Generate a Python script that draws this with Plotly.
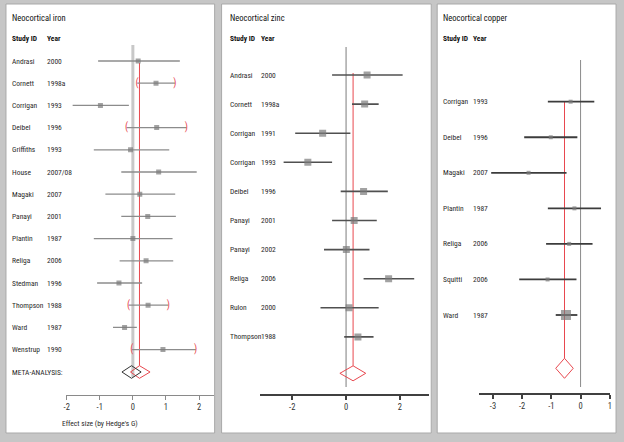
import plotly.graph_objects as go

# ---------------- data ----------------
iron_study = ["Andrasi", "Cornett", "Corrigan", "Deibel", "Griffiths", "House", "Magaki",
              "Panayi", "Plantin", "Religa", "Stedman", "Thompson", "Ward", "Wenstrup"]
iron_year = ["2000", "1998a", "1993", "1996", "1993", "2007/08", "2007",
             "2001", "1987", "2006", "1996", "1988", "1987", "1990"]
iron_es = [0.16, 0.70, -0.98, 0.72, -0.07, 0.78, 0.21, 0.45, 0.00, 0.40, -0.42, 0.46, -0.25, 0.91]
iron_lo = [-1.05, 0.13, -1.82, -0.19, -1.18, -0.35, -0.83, -0.35, -1.18, -0.40, -1.08, -0.13, -0.60, -0.03]
iron_hi = [1.42, 1.27, -0.12, 1.62, 1.10, 1.93, 1.28, 1.30, 1.20, 1.22, 0.28, 1.07, 0.12, 1.90]
iron_bracket = [False, True, False, True, False, False, False, False, False, False, False, True, False, True]
iron_meta_random = [0.20, -0.07, 0.52]   # estimate, low, high
iron_meta_fixed = [-0.04, -0.33, 0.25]

zinc_study = ["Andrasi", "Cornett", "Corrigan", "Corrigan", "Deibel", "Panayi", "Panayi",
              "Religa", "Rulon", "Thompson"]
zinc_year = ["2000", "1998a", "1991", "1993", "1996", "2001", "2002", "2006", "2000", "1988"]
zinc_es = [0.78, 0.69, -0.87, -1.42, 0.65, 0.30, 0.01, 1.58, 0.11, 0.44]
zinc_lo = [-0.52, 0.22, -1.89, -2.32, -0.20, -0.52, -0.82, 0.65, -0.95, -0.07]
zinc_hi = [2.10, 1.21, 0.16, -0.52, 1.55, 1.14, 0.87, 2.53, 1.21, 1.02]
zinc_meta = [0.26, -0.23, 0.73]

copper_study = ["Corrigan", "Deibel", "Magaki", "Plantin", "Religa", "Squitti", "Ward"]
copper_year = ["1993", "1996", "2007", "1987", "2006", "2006", "1987"]
copper_es = [-0.34, -1.02, -1.78, -0.21, -0.39, -1.13, -0.50]
copper_lo = [-1.12, -1.93, -3.06, -1.12, -1.18, -2.10, -0.85]
copper_hi = [0.47, -0.11, -0.48, 0.70, 0.41, -0.14, -0.11]
copper_meta = [-0.55, -0.85, -0.25]

iron_ticks = [-2, -1, 0, 1, 2]
zinc_ticks = [-2, 0, 2]
copper_ticks = [-3, -2, -1, 0, 1]

titles = ["Neocortical iron", "Neocortical zinc", "Neocortical copper"]

# ---------------- layout constants (pixels) ----------------
W, H = 624, 442
FONT = "Roboto Condensed, Liberation Sans, Arial, sans-serif"
RED = "#e8484f"
TXT = "#2a2a2a"
panels = [(4, 214), (221, 432), (438, 618)]
geo = [
    dict(ax0=64, ax1=213, zero=131.7, ppu=33.3, row0=61, step=22.2, meta=372, axy=395,
         name_x=8, year_x=43, zl=(45, 377), red_top=63),
    dict(ax0=260, ax1=430, zero=346.3, ppu=27.1, row0=75, step=29.1, meta=373.3, axy=395,
         name_x=227, year_x=259, zl=(47, 387), red_top=73),
    dict(ax0=480, ax1=612, zero=582.3, ppu=29.4, row0=101.7, step=35.55, meta=368.3, axy=394.3,
         name_x=442, year_x=472, zl=(60, 387), red_top=102),
]

fig = go.Figure()
shapes = []
annotations = []


def py(px):
    return 1 - px / H


for x0, x1 in panels:
    shapes.append(dict(type="rect", xref="paper", yref="paper",
                       x0=x0 / W, x1=x1 / W, y0=py(433), y1=py(4),
                       fillcolor="white", line=dict(color="#a9a9a9", width=1), layer="below"))

datasets = [
    (iron_study, iron_year, iron_es, iron_lo, iron_hi, iron_ticks),
    (zinc_study, zinc_year, zinc_es, zinc_lo, zinc_hi, zinc_ticks),
    (copper_study, copper_year, copper_es, copper_lo, copper_hi, copper_ticks),
]
metas = [iron_meta_random, zinc_meta, copper_meta]
ci_colors = ["#8c8c8c", "#505050", "#3c3c3c"]
ci_widths = [1.3, 1.6, 1.8]
marker_sizes = [[5] * 14, [7] * 10, [4, 4, 4, 4, 4, 4, 10]]
axis_colors = ["#8a8a8a", "#404040", "#404040"]
diamond_half_px = [6.3, 7.5, 10]
zero_line = [dict(color="#c8c8c8", width=3), dict(color="#a8a8a8", width=1.5),
             dict(color="#8a8a8a", width=1)]

layout_axes = {}
for k, (study, year, es, lo, hi, ticks) in enumerate(datasets):
    g = geo[k]
    sfx = "" if k == 0 else str(k + 1)
    xa, ya = "x" + sfx, "y" + sfx
    rows = list(range(len(study)))
    meta_row = (g["meta"] - g["row0"]) / g["step"]
    h = diamond_half_px[k] / g["step"]
    m = metas[k]

    # zero line and pooled line
    shapes.append(dict(type="line", xref=xa, yref="paper", x0=0, x1=0,
                       y0=py(g["zl"][0]), y1=py(g["zl"][1]), line=zero_line[k], layer="below"))
    shapes.append(dict(type="line", xref=xa, yref=ya, x0=m[0], x1=m[0],
                       y0=(g["red_top"] - g["row0"]) / g["step"], y1=meta_row - h,
                       line=dict(color=RED, width=1), layer="below"))

    # CI lines
    lx, ly = [], []
    for i in rows:
        lx += [lo[i], hi[i], None]
        ly += [i, i, None]
    fig.add_trace(go.Scatter(x=lx, y=ly, mode="lines", xaxis=xa, yaxis=ya,
                             line=dict(color=ci_colors[k], width=ci_widths[k]),
                             hoverinfo="skip", showlegend=False))
    # point estimates
    fig.add_trace(go.Scatter(x=es, y=rows, mode="markers", xaxis=xa, yaxis=ya,
                             marker=dict(symbol="square", size=marker_sizes[k], color="#7a7a7a",
                                         line=dict(width=0)),
                             showlegend=False))
    # pooled diamond
    fig.add_trace(go.Scatter(x=[m[1], m[0], m[2], m[0], m[1]],
                             y=[meta_row, meta_row - h, meta_row, meta_row + h, meta_row],
                             mode="lines", xaxis=xa, yaxis=ya,
                             line=dict(color=RED, width=1), showlegend=False))
    if k == 0:
        f = iron_meta_fixed
        fig.add_trace(go.Scatter(x=[f[1], f[0], f[2], f[0], f[1]],
                                 y=[meta_row, meta_row - h, meta_row, meta_row + h, meta_row],
                                 mode="lines", xaxis=xa, yaxis=ya,
                                 line=dict(color="#333333", width=1), showlegend=False))
        bx, by, bt = [], [], []
        for i in rows:
            if iron_bracket[i]:
                bx += [lo[i], hi[i]]
                by += [i, i]
                bt += ["(", ")"]
        fig.add_trace(go.Scatter(x=bx, y=by, text=bt, mode="text", xaxis=xa, yaxis=ya,
                                 textfont=dict(color=RED, size=10, family=FONT),
                                 showlegend=False))

    # axes
    layout_axes["xaxis" + sfx] = dict(
        domain=[g["ax0"] / W, g["ax1"] / W],
        range=[(g["ax0"] - g["zero"]) / g["ppu"], (g["ax1"] - g["zero"]) / g["ppu"]],
        anchor="free", position=py(g["axy"]),
        showline=True, linecolor=axis_colors[k], linewidth=1.5 if k else 1,
        ticks="outside", ticklen=4, tickcolor=axis_colors[k], tickwidth=1.5 if k else 1,
        tickvals=ticks, ticktext=[str(t) for t in ticks],
        tickfont=dict(size=8.5, color="#333333", family=FONT),
        showgrid=False, zeroline=False, fixedrange=True)
    layout_axes["yaxis" + sfx] = dict(
        domain=[0, 1], anchor="free", position=0,
        range=[(H - g["row0"]) / g["step"], -g["row0"] / g["step"]],
        visible=False, fixedrange=True)

    # texts
    for i in rows:
        annotations.append(dict(xref="paper", yref=ya, x=g["name_x"] / W, y=i, text=study[i],
                                showarrow=False, xanchor="left", yanchor="middle",
                                font=dict(size=7.5, color=TXT, family=FONT)))
        annotations.append(dict(xref="paper", yref=ya, x=g["year_x"] / W, y=i, text=year[i],
                                showarrow=False, xanchor="left", yanchor="middle",
                                font=dict(size=7.5, color=TXT, family=FONT)))
    annotations.append(dict(xref="paper", yref="paper", x=g["name_x"] / W, y=py(18), text=titles[k],
                            showarrow=False, xanchor="left", yanchor="middle",
                            font=dict(size=8.5, color="#111111", family=FONT)))
    annotations.append(dict(xref="paper", yref="paper", x=g["name_x"] / W, y=py(38),
                            text="<b>Study ID</b>", showarrow=False, xanchor="left", yanchor="middle",
                            font=dict(size=7.5, color="#111111", family=FONT)))
    annotations.append(dict(xref="paper", yref="paper", x=g["year_x"] / W, y=py(38),
                            text="<b>Year</b>", showarrow=False, xanchor="left", yanchor="middle",
                            font=dict(size=7.5, color="#111111", family=FONT)))

annotations.append(dict(xref="paper", yref="y", x=8 / W, y=(372 - 61) / 22.2, text="META-ANALYSIS:",
                        showarrow=False, xanchor="left", yanchor="middle",
                        font=dict(size=7.5, color=TXT, family=FONT)))
annotations.append(dict(xref="paper", yref="paper", x=99 / W, y=py(423), text="Effect size (by Hedge's G)",
                        showarrow=False, xanchor="center", yanchor="middle",
                        font=dict(size=7.5, color=TXT, family=FONT)))

fig.update_layout(
    width=W, height=H, margin=dict(l=0, r=0, t=0, b=0),
    paper_bgcolor="#c6c6c6", plot_bgcolor="rgba(0,0,0,0)",
    shapes=shapes, annotations=annotations, showlegend=False,
    **layout_axes)

fig.write_html("out.html", config={"displayModeBar": False},
               post_script="document.body.style.margin='0';")
